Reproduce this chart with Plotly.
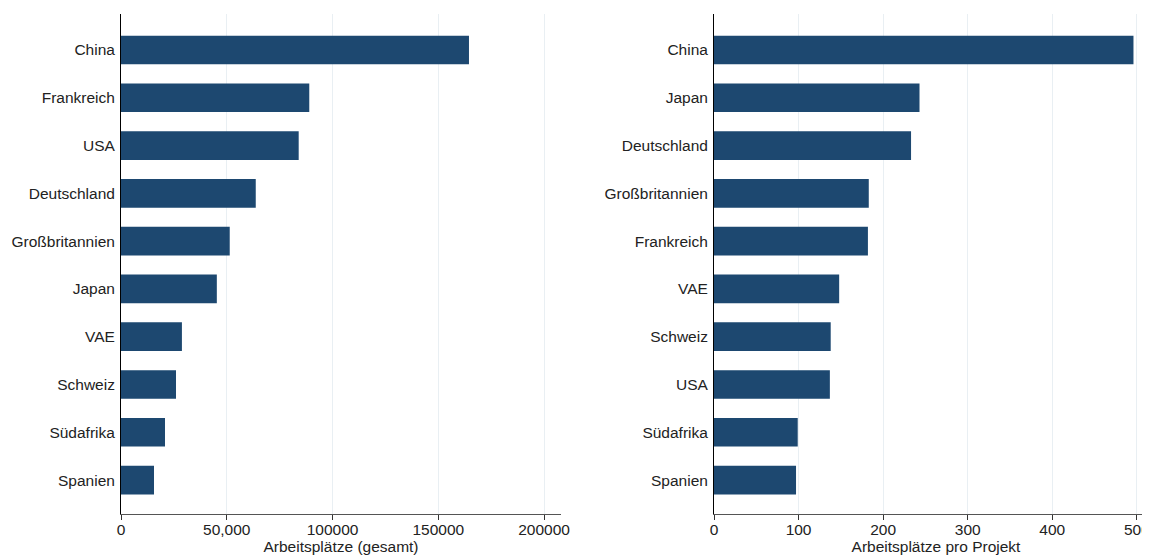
import plotly.graph_objects as go

countries_total = ["China", "Frankreich", "USA", "Deutschland", "Großbritannien",
                   "Japan", "VAE", "Schweiz", "Südafrika", "Spanien"]
jobs_total = [164500, 89000, 84000, 63700, 51400, 45300, 28800, 26000, 20800, 15600]

countries_per = ["China", "Japan", "Deutschland", "Großbritannien", "Frankreich",
                 "VAE", "Schweiz", "USA", "Südafrika", "Spanien"]
jobs_per = [496, 243, 233, 183, 182, 148, 138, 137, 99, 97]

left_tickvals = [0, 50000, 100000, 150000, 200000]
left_ticktext = ["0", "50,000", "100000", "150000", "200000"]
right_tickvals = [0, 100, 200, 300, 400, 500]

bar_color = "#1d4870"
grid_color = "#e9eff3"
font = dict(family="Arial", size=15.5, color="#222")

W, H = 1150, 547  # page body has an 8px margin

fig = go.Figure()
fig.add_trace(go.Bar(x=jobs_total, y=countries_total, orientation="h",
                     marker=dict(color=bar_color, line=dict(width=0)),
                     width=0.6, xaxis="x", yaxis="y", showlegend=False))
fig.add_trace(go.Bar(x=jobs_per, y=countries_per, orientation="h",
                     marker=dict(color=bar_color, line=dict(width=0)),
                     width=0.6, xaxis="x2", yaxis="y2", showlegend=False))

ydom = [1 - 506 / H, 1 - 6 / H]
common_x = dict(showgrid=True, gridcolor=grid_color, gridwidth=1, zeroline=False,
                showline=True, linecolor="#555", linewidth=1,
                ticks="outside", ticklen=5, tickcolor="#333", automargin=False,
                ticklabelstandoff=-4, ticklabeloverflow="allow",
                tickfont=dict(size=15.5), title_font=dict(size=15.5), title_standoff=0)
common_y = dict(showgrid=False, zeroline=False, showline=True, linecolor="#000",
                linewidth=1, ticks="", tickfont=dict(size=15.5), ticklabelstandoff=2,
                automargin=False)

yrange = [9.71, -0.753]

fig.update_layout(
    width=W, height=H,
    margin=dict(l=0, r=0, t=0, b=0),
    paper_bgcolor="white", plot_bgcolor="white",
    font=font,
    bargap=0.4,
    xaxis=dict(domain=[113 / W, 553 / W], range=[0, 208000],
               tickvals=left_tickvals, ticktext=left_ticktext,
               title=dict(text="Arbeitsplätze (gesamt)"), anchor="y", **common_x),
    yaxis=dict(domain=ydom, autorange=False, range=yrange,
               categoryorder="array", categoryarray=countries_total,
               anchor="x", **common_y),
    xaxis2=dict(domain=[706 / W, 1150 / W], range=[0, 525],
                tickvals=right_tickvals,
                title=dict(text="Arbeitsplätze pro Projekt", standoff=0),
                anchor="y2", **{k: v for k, v in common_x.items() if k != "title_standoff"}),
    yaxis2=dict(domain=ydom, autorange=False, range=yrange,
                categoryorder="array", categoryarray=countries_per,
                anchor="x2", **common_y),
)

fig.write_html("out.html")
